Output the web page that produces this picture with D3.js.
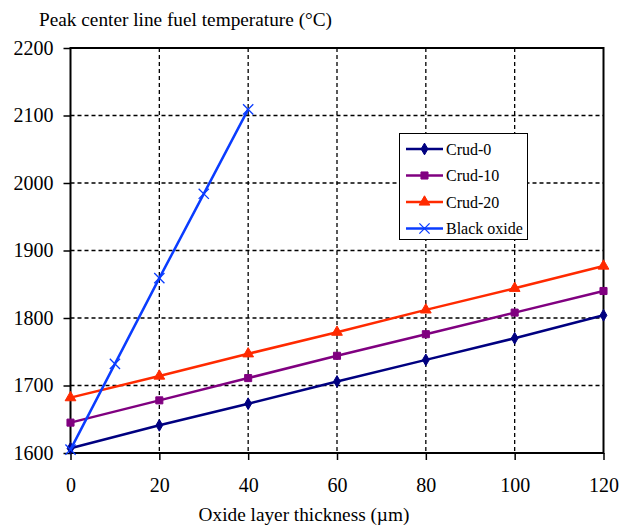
<!DOCTYPE html>
<html><head><meta charset="utf-8">
<script src="https://cdn.jsdelivr.net/npm/d3@7"></script>
<style>body{margin:0;background:#fff}</style>
</head><body>
<svg id="c" width="621" height="527"></svg>
<script>
const xTicks = [0, 20, 40, 60, 80, 100, 120];
const yTicks = [1600, 1700, 1800, 1900, 2000, 2100, 2200];
const crudX = [0, 20, 40, 60, 80, 100, 120];
const crud0 = [1607, 1641, 1673, 1706, 1738, 1770, 1804];
const crud10 = [1645, 1678, 1711, 1744, 1776, 1808, 1840];
const crud20 = [1682, 1714, 1747, 1779, 1812, 1844, 1877];
const blackX = [0, 10, 20, 30, 40];
const blackOxide = [1605, 1732, 1859, 1984, 2109];
const seriesNames = ["Crud-0", "Crud-10", "Crud-20", "Black oxide"];
const colors = ["#000080", "#800080", "#ff2a00", "#0a3cff"];
const symbols = ["diamond", "square", "triangle", "cross"];

const svg = d3.select("#c");
const L = 70.5, R = 603.5, T = 48, B = 453;
const x = d3.scaleLinear().domain([0, 120]).range([L, R]);
const y = d3.scaleLinear().domain([1600, 2200]).range([B, T]);
const font = "'Liberation Serif', 'Times New Roman', serif";

// grid
svg.append("g").selectAll("line").data(xTicks.slice(1, -1)).join("line")
  .attr("x1", d => x(d)).attr("x2", d => x(d)).attr("y1", T).attr("y2", B)
  .attr("stroke", "#000").attr("stroke-width", 1.3).attr("stroke-dasharray", "4,3");
svg.append("g").selectAll("line").data(yTicks.slice(1, -1)).join("line")
  .attr("y1", d => y(d)).attr("y2", d => y(d)).attr("x1", L).attr("x2", R)
  .attr("stroke", "#000").attr("stroke-width", 1.3).attr("stroke-dasharray", "4,3");

// border
svg.append("rect").attr("x", L).attr("y", T).attr("width", R - L).attr("height", B - T)
  .attr("fill", "none").attr("stroke", "#000").attr("stroke-width", 2);

// axes
const xAxis = svg.append("g").attr("transform", `translate(0,${B})`)
  .call(d3.axisBottom(x).tickValues(xTicks).tickFormat(d3.format("d")).tickSize(7).tickPadding(18));
const yAxis = svg.append("g").attr("transform", `translate(${L},0)`)
  .call(d3.axisLeft(y).tickValues(yTicks).tickFormat(d3.format("d")).tickSize(7).tickPadding(10));
[xAxis, yAxis].forEach(a => {
  a.attr("font-family", font).attr("font-size", 20);
  a.select(".domain").remove();
  a.selectAll(".tick line").attr("stroke", "#000").attr("stroke-width", 1.5);
  a.selectAll("text").attr("fill", "#000");
});

// titles
svg.append("text").attr("x", 39).attr("y", 26).attr("font-family", font).attr("font-size", 19.3)
  .text("Peak center line fuel temperature (°C)");
svg.append("text").attr("x", 304).attr("y", 521).attr("text-anchor", "middle")
  .attr("font-family", font).attr("font-size", 19.3).text("Oxide layer thickness (µm)");

const seriesData = [
  crudX.map((d, i) => [d, crud0[i]]),
  crudX.map((d, i) => [d, crud10[i]]),
  crudX.map((d, i) => [d, crud20[i]]),
  blackX.map((d, i) => [d, blackOxide[i]])
];
const symType = {diamond: d3.symbolDiamond, square: d3.symbolSquare, triangle: d3.symbolTriangle, cross: d3.symbolX};
const symSize = {diamond: 40, square: 50, triangle: 50, cross: 70};

function drawMarker(g, s, cx, cy, col) {
  const isX = s === "cross";
  g.append("path").attr("d", d3.symbol(symType[s], symSize[s])())
    .attr("transform", `translate(${cx},${cy})`)
    .attr("fill", isX ? "none" : col).attr("stroke", col).attr("stroke-width", isX ? 1.3 : 1);
}

const line = d3.line().x(d => x(d[0])).y(d => y(d[1]));
seriesData.forEach((data, i) => {
  const g = svg.append("g");
  g.append("path").datum(data).attr("d", line).attr("fill", "none")
    .attr("stroke", colors[i]).attr("stroke-width", 2.5);
  data.forEach(d => drawMarker(g, symbols[i], x(d[0]), y(d[1]), colors[i]));
});

// legend
const lg = svg.append("g");
lg.append("rect").attr("x", 399.5).attr("y", 133.5).attr("width", 128).attr("height", 106)
  .attr("fill", "#fff").attr("stroke", "#000").attr("stroke-width", 1);
seriesNames.forEach((n, i) => {
  const yy = 149 + i * 26.5;
  lg.append("line").attr("x1", 406).attr("x2", 443).attr("y1", yy).attr("y2", yy)
    .attr("stroke", colors[i]).attr("stroke-width", 2.5);
  drawMarker(lg, symbols[i], 424.5, yy, colors[i]);
  lg.append("text").attr("x", 446).attr("y", yy + 5.5).attr("font-family", font)
    .attr("font-size", 16).text(n);
});
</script>
</body></html>
